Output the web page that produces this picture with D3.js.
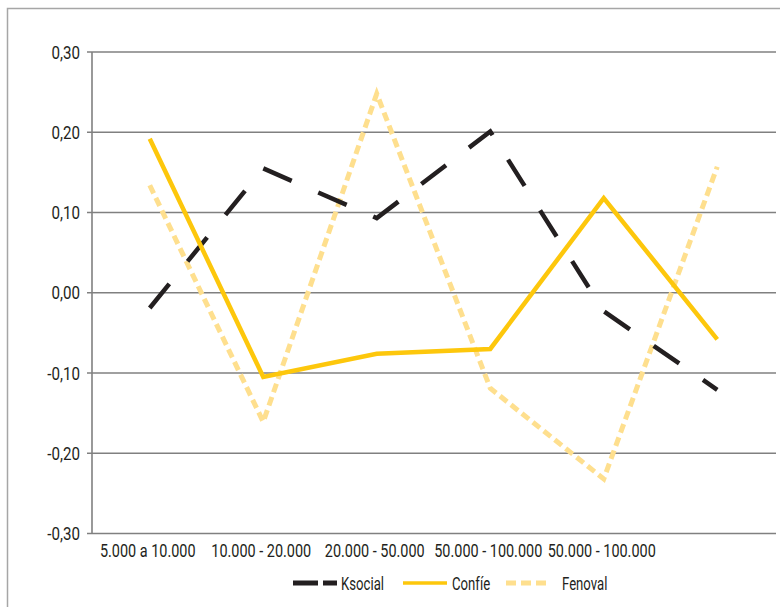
<!DOCTYPE html>
<html>
<head>
<meta charset="utf-8">
<script src="https://cdn.jsdelivr.net/npm/d3@7/dist/d3.min.js"></script>
<style>
  html, body { margin: 0; padding: 0; background: #fff; }
  svg { display: block; }
  text { font-family: Roboto, "Liberation Sans", sans-serif; fill: #231f20; }
</style>
</head>
<body>
<svg id="chart" width="780" height="607"></svg>
<script>
// ---- data ----
const categories = ["5.000 a 10.000", "10.000 - 20.000", "20.000 - 50.000", "50.000 - 100.000", "50.000 - 100.000", ""];
const ksocial = [-0.019, 0.155, 0.093, 0.201, -0.023, -0.121];
const confie  = [0.192, -0.105, -0.076, -0.070, 0.118, -0.058];
const fenoval = [0.134, -0.161, 0.248, -0.119, -0.232, 0.157];
const yTicks = [-0.3, -0.2, -0.1, 0, 0.1, 0.2, 0.3];
const seriesNames = ["Ksocial", "Confíe", "Fenoval"];

// ---- layout ----
const svg = d3.select("#chart");

// outer frame
svg.append("rect")
  .attr("x", 7.5).attr("y", 8.5)
  .attr("width", 800).attr("height", 700)
  .attr("fill", "none").attr("stroke", "#a6a6a6").attr("stroke-width", 1.5);

const idx = d3.range(categories.length);
const x = d3.scaleBand().domain(idx).range([93, 774]).padding(0);
const y = d3.scaleLinear().domain([-0.3, 0.3]).range([533.5, 52]);
const fmt = v => d3.format(".2f")(v).replace(".", ",").replace("−", "-");

// horizontal compression factor so that a sample string reaches a target width
function fitFactor(sample, size, target) {
  const t = svg.append("text").attr("font-size", size).text(sample);
  const w = t.node().getComputedTextLength();
  t.remove();
  return target / w;
}
function placeText(sel, px, py, k) {
  sel.attr("transform", (d, i) => `translate(${px(d, i)},${py(d, i)}) scale(${k},1)`);
}

// gridlines
svg.append("g").selectAll("line").data(yTicks).join("line")
  .attr("x1", 87).attr("x2", 776)
  .attr("y1", d => y(d)).attr("y2", d => y(d))
  .attr("stroke", "#808080").attr("stroke-width", 1.6);

// y axis line
svg.append("line")
  .attr("x1", 92).attr("x2", 92)
  .attr("y1", y(0.3)).attr("y2", y(-0.3))
  .attr("stroke", "#808080").attr("stroke-width", 1.6);

// y labels
const fs = 18.5;
const kY = fitFactor("0,30", fs, 28.5);
const yl = svg.append("g").selectAll("text").data(yTicks).join("text")
  .attr("text-anchor", "end")
  .attr("font-size", fs)
  .text(d => fmt(d));
placeText(yl, () => 80, d => y(d) + 6.5, kY);

// x labels
const kX = fitFactor("10.000 - 20.000", fs, 100);
const xl = svg.append("g").selectAll("text").data(idx).join("text")
  .attr("text-anchor", "middle")
  .attr("font-size", fs)
  .text(i => categories[i]);
placeText(xl, i => x(i) + x.bandwidth() / 2 - 2, () => 557, kX);

const line = d3.line()
  .x((d, i) => x(i) + x.bandwidth() / 2)
  .y(d => y(d));

const styles = [
  { data: ksocial, color: "#231f20", width: 4.5, dash: "31,29" },
  { data: confie,  color: "#fdc70c", width: 4.5, dash: null },
  { data: fenoval, color: "#fedf8e", width: 5,   dash: "9,5" }
];

const drawOrder = [2, 0, 1];
drawOrder.forEach(k => {
  const s = styles[k];
  svg.append("path")
    .attr("d", line(s.data))
    .attr("fill", "none")
    .attr("stroke", s.color)
    .attr("stroke-width", s.width)
    .attr("stroke-linejoin", "miter")
    .attr("stroke-dasharray", s.dash);
});

// legend
const kL = fitFactor("Ksocial", fs, 43);
const legendItems = [
  { x1: 293, x2: 337, tx: 341, dash: "25,5" },
  { x1: 403, x2: 447, tx: 452, dash: null },
  { x1: 506, x2: 547, tx: 562, dash: "10,5" }
];
legendItems.forEach((L, k) => {
  const s = styles[k];
  svg.append("line")
    .attr("x1", L.x1).attr("x2", L.x2)
    .attr("y1", 583).attr("y2", 583)
    .attr("stroke", s.color).attr("stroke-width", k === 1 ? 3.5 : 5)
    .attr("stroke-dasharray", L.dash);
  const t = svg.append("text")
    .datum(k)
    .attr("font-size", fs)
    .text(seriesNames[k]);
  placeText(t, () => L.tx, () => 589.5, kL);
});
</script>
</body>
</html>
